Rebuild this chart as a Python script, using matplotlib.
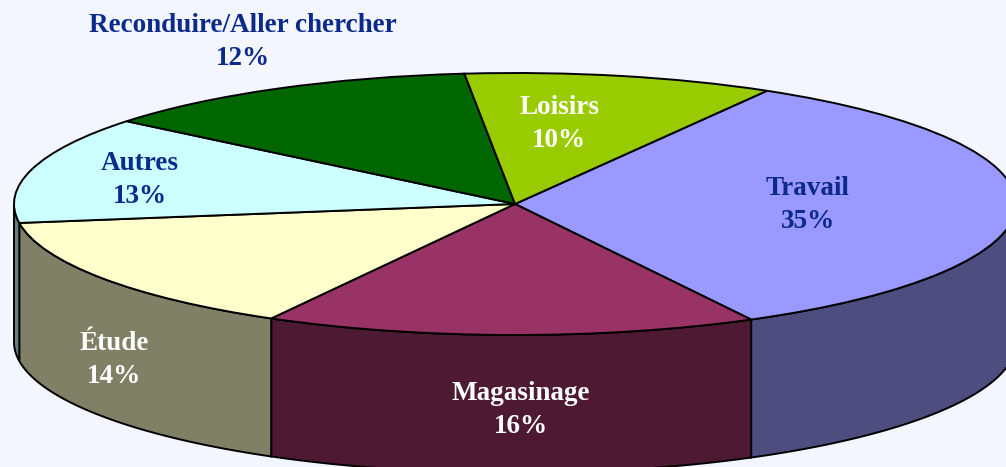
import numpy as np
import matplotlib
matplotlib.use('Agg')
import matplotlib.pyplot as plt

# slices, clockwise from the Loisirs/Travail edge
names = ['Travail', 'Magasinage', 'Étude', 'Autres', 'Reconduire/Aller chercher', 'Loisirs']
percents = ['35%', '16%', '14%', '13%', '12%', '10%']
# slice sizes as measured on the drawn (tilted) pie, printed labels are the rounded ones above
sizes = [33.8, 15.9, 14.6, 13.2, 12.5, 10.0]
top_colors = ['#9999ff', '#993366', '#ffffcc', '#ccffff', '#006600', '#99cc00']
side_colors = ['#4d4d80', '#4d1933', '#808066', '#668080', '#003300', '#4d6600']
label_colors = ['#0b2a8c', '#ffffff', '#ffffff', '#0b2a8c', '#0b2a8c', '#ffffff']

W, H = 1006, 467
cx, cy = 515, 204   # pie centre in px
rx, ry = 501, 131   # ellipse radii in px
depth = 138 / ry
start = 59.8

plt.rcParams['font.family'] = ['Liberation Serif', 'DejaVu Serif']

fig = plt.figure(figsize=(W / 100, H / 100), dpi=100, facecolor='#f4f6ff')
ax = fig.add_axes([0, 0, 1, 1])

wedges, _ = ax.pie(sizes, colors=top_colors, startangle=start, counterclock=False,
                   wedgeprops={'edgecolor': 'black', 'linewidth': 1.4, 'zorder': 5})
ax.set_aspect('auto')
ax.set_xlim((0 - cx) / rx, (W - cx) / rx)
ax.set_ylim((cy - H) / ry, cy / ry)

# side wall, only the front half of the rim shows
for wedge, col in zip(wedges, side_colors):
    t1, t2 = wedge.theta1 % 360, wedge.theta2 % 360
    if t2 <= t1:
        t2 += 360
    t1, t2 = max(t1, 180), min(t2, 360)
    if t2 <= t1:
        continue
    t = np.radians(np.linspace(t1, t2, 120))
    xs = np.cos(t)
    ys = np.sin(t)
    ax.fill(np.r_[xs, xs[::-1]], np.r_[ys, ys[::-1] - depth], facecolor=col,
            edgecolor='black', linewidth=1.4, zorder=2, clip_on=True)

# label positions in px
label_pos = [(808, 205), (521, 410), (114, 360), (140, 180), (243, 42), (559, 124)]
for name, pct, col, (px, py) in zip(names, percents, label_colors, label_pos):
    ax.text((px - cx) / rx, (cy - py) / ry, name + '\n' + pct, color=col, fontsize=19.5,
            fontweight='bold', ha='center', va='center', linespacing=1.42, zorder=10)

fig.savefig('out.png', dpi=100, facecolor=fig.get_facecolor())
